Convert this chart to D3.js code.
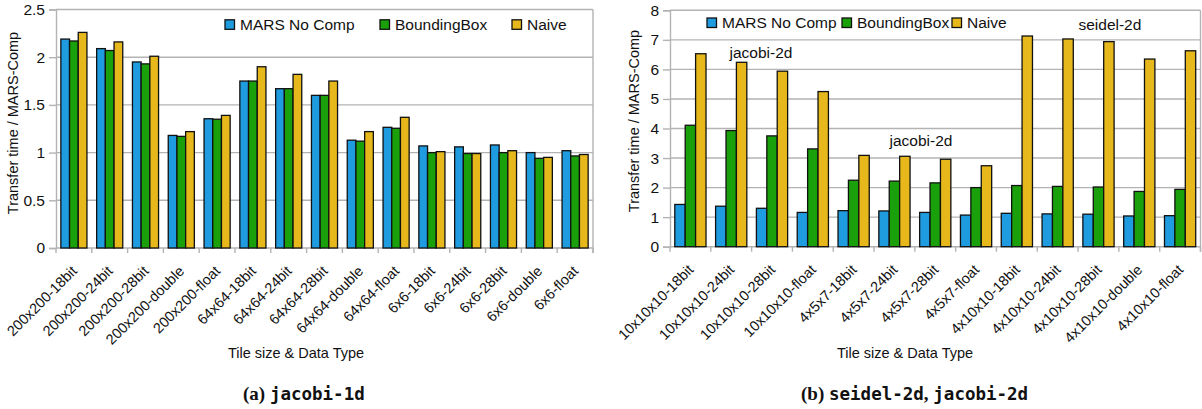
<!DOCTYPE html>
<html>
<head>
<meta charset="utf-8">
<script src="https://cdn.jsdelivr.net/npm/d3@7"></script>
<style>
  html, body { margin: 0; padding: 0; background: #fff; }
  svg { display: block; }
  text { font-family: "Liberation Sans", Arial, sans-serif; fill: #111; }
</style>
</head>
<body>
<svg id="chart" width="1202" height="409"></svg>
<script>
// ---------- data ----------
const seriesNames = ["MARS No Comp", "BoundingBox", "Naive"];
const seriesColors = ["#1f9be0", "#19a00a", "#e7b81b"];

const catsA = ["200x200-18bit", "200x200-24bit", "200x200-28bit", "200x200-double", "200x200-float",
  "64x64-18bit", "64x64-24bit", "64x64-28bit", "64x64-double", "64x64-float",
  "6x6-18bit", "6x6-24bit", "6x6-28bit", "6x6-double", "6x6-float"];
const marsA  = [2.19, 2.09, 1.95, 1.18, 1.355, 1.75, 1.67, 1.60, 1.13, 1.265, 1.07, 1.06, 1.08, 1.00, 1.02];
const bboxA  = [2.17, 2.07, 1.93, 1.17, 1.35, 1.75, 1.67, 1.60, 1.12, 1.255, 1.00, 0.99, 1.00, 0.94, 0.965];
const naiveA = [2.26, 2.16, 2.01, 1.22, 1.39, 1.90, 1.82, 1.75, 1.22, 1.37, 1.01, 0.99, 1.02, 0.95, 0.98];
const ticksA = [0, 0.5, 1, 1.5, 2, 2.5];

const catsB = ["10x10x10-18bit", "10x10x10-24bit", "10x10x10-28bit", "10x10x10-float",
  "4x5x7-18bit", "4x5x7-24bit", "4x5x7-28bit", "4x5x7-float",
  "4x10x10-18bit", "4x10x10-24bit", "4x10x10-28bit", "4x10x10-double", "4x10x10-float"];
const marsB  = [1.43, 1.37, 1.30, 1.16, 1.22, 1.21, 1.16, 1.07, 1.13, 1.11, 1.10, 1.04, 1.05];
const bboxB  = [4.11, 3.93, 3.75, 3.31, 2.25, 2.22, 2.16, 2.00, 2.07, 2.04, 2.02, 1.87, 1.94];
const naiveB = [6.53, 6.24, 5.94, 5.25, 3.09, 3.06, 2.96, 2.74, 7.13, 7.03, 6.94, 6.35, 6.63];
const ticksB = [0, 1, 2, 3, 4, 5, 6, 7, 8];
// annotation labels: [text, category position (index units), value]
const notesB = [["jacobi-2d", 2.23, 6.39], ["jacobi-2d", 6.15, 3.41], ["seidel-2d", 10.78, 7.33]];

const yTitle = "Transfer time / MARS-Comp";
const xTitle = "Tile size & Data Type";

// ---------- drawing ----------
const svg = d3.select("#chart");
const GRID = "#b3b3b3";

function drawPanel(o) {
  const g = svg.append("g");
  const x = d3.scaleBand().domain(o.cats).range([o.left, o.right]).padding(0);
  const y = d3.scaleLinear().domain([0, o.yMax]).range([o.bottom, o.top]);
  const step = x.step();
  const bw = step * o.barFrac;
  const xs = d3.scaleBand().domain(d3.range(3)).range([(step - 3 * bw) / 2, (step + 3 * bw) / 2]);

  // grid lines
  g.selectAll(".grid").data(o.ticks).join("line")
    .attr("x1", o.left).attr("x2", o.right)
    .attr("y1", d => y(d)).attr("y2", d => y(d))
    .attr("stroke", GRID).attr("stroke-width", 1.4);
  // right border
  g.append("line").attr("x1", o.right).attr("x2", o.right)
    .attr("y1", y(o.yMax)).attr("y2", y(0) + 5)
    .attr("stroke", GRID).attr("stroke-width", 1.4);

  // y axis
  const ya = d3.axisLeft(y).tickValues(o.ticks).tickSize(7).tickPadding(4).tickFormat(d3.format("~g"));
  const yg = g.append("g").attr("transform", `translate(${o.left},0)`).call(ya);
  yg.select(".domain").attr("stroke", GRID).attr("stroke-width", 1.4);
  yg.selectAll(".tick line").attr("stroke", GRID).attr("stroke-width", 1.4);
  yg.selectAll(".tick text").attr("font-size", "15.5px").attr("fill", "#111")
    .attr("font-family", "Liberation Sans, Arial, sans-serif");

  // x axis ticks at category boundaries
  const bounds = o.cats.map(c => x(c)).concat([o.right]);
  g.selectAll(".xt").data(bounds).join("line")
    .attr("x1", d => d).attr("x2", d => d)
    .attr("y1", y(0)).attr("y2", y(0) + 5)
    .attr("stroke", GRID).attr("stroke-width", 1.4);

  // bars
  o.series.forEach((vals, si) => {
    g.selectAll(".bar" + si).data(vals).join("rect")
      .attr("x", (d, i) => x(o.cats[i]) + xs(si))
      .attr("y", d => y(d))
      .attr("width", xs.bandwidth())
      .attr("height", d => y(0) - y(d))
      .attr("fill", seriesColors[si])
      .attr("stroke", "#111").attr("stroke-width", 1.3);
  });

  // x tick labels
  g.selectAll(".xl").data(o.cats).join("text")
    .attr("text-anchor", "end")
    .attr("font-size", "14.5px")
    .attr("transform", d => `translate(${x(d) + step / 2 + 4},${y(0) + 24}) rotate(-45)`)
    .text(d => d);

  // axis titles
  g.append("text").attr("text-anchor", "middle").attr("font-size", "14.5px")
    .attr("transform", `translate(${o.yTitleX},${o.yTitleY}) rotate(-90)`)
    .text(yTitle);
  g.append("text").attr("text-anchor", "middle").attr("font-size", "14.5px")
    .attr("x", o.xTitleX).attr("y", 358).text(xTitle);

  // legend
  seriesNames.forEach((n, i) => {
    g.append("rect").attr("x", o.legendX[i]).attr("y", o.legendY - 9.5)
      .attr("width", 9.5).attr("height", 9.5)
      .attr("fill", seriesColors[i]).attr("stroke", "#111").attr("stroke-width", 1.3);
    g.append("text").attr("x", o.legendX[i] + 15).attr("y", o.legendY + 0.3)
      .attr("font-size", "15.5px").text(n);
  });

  // notes
  if (o.notes) {
    const xn = d3.scaleLinear().domain([0, o.cats.length]).range([o.left, o.right]);
    g.selectAll(".note").data(o.notes).join("text")
      .attr("text-anchor", "middle").attr("font-size", "15.5px")
      .attr("x", d => xn(d[1])).attr("y", d => y(d[2]))
      .text(d => d[0]);
  }

  // caption
  const cap = g.append("text").attr("x", o.capX).attr("y", 400);
  o.caption.forEach(([t, mono]) => {
    cap.append("tspan").text(t)
      .attr("font-family", mono ? "DejaVu Sans Mono, monospace" : "Liberation Serif, serif")
      .attr("font-weight", "bold")
      .attr("font-size", mono ? "17.5px" : "19px");
  });
}

drawPanel({
  cats: catsA, series: [marsA, bboxA, naiveA], ticks: ticksA, yMax: 2.5,
  left: 56, right: 593, top: 9.5, bottom: 248, barFrac: 0.243,
  legendX: [225, 380, 512], legendY: 29.3,
  yTitleX: 18, yTitleY: 123, xTitleX: 296,
  capX: 243, caption: [["(a) ", false], ["jacobi-1d", true]]
});

drawPanel({
  cats: catsB, series: [marsB, bboxB, naiveB], ticks: ticksB, yMax: 8,
  left: 670, right: 1200.5, top: 10.3, bottom: 246.7, barFrac: 0.255,
  legendX: [707, 842, 952], legendY: 27.5,
  yTitleX: 639, yTitleY: 121, xTitleX: 905,
  notes: notesB,
  capX: 801, caption: [["(b) ", false], ["seidel-2d", true], [", ", false], ["jacobi-2d", true]]
});
</script>
</body>
</html>
